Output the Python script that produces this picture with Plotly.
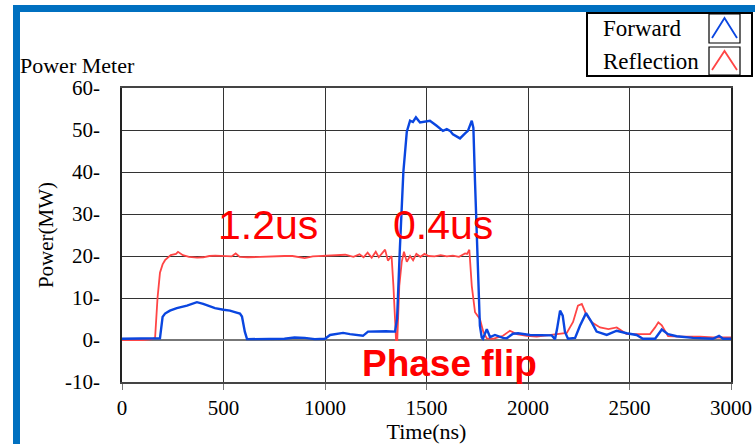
import plotly.graph_objects as go

# ---- data -------------------------------------------------------------
forward_t = [0, 100, 160, 187, 200, 212, 236, 270, 320, 369, 400, 458, 500, 532, 560,
             581, 591, 605, 616, 700, 800, 850, 900, 950, 1000, 1025, 1060, 1089,
             1123, 1160, 1187, 1212, 1256, 1300, 1345, 1355, 1369, 1386, 1403, 1419,
             1433, 1448, 1468, 1483, 1500, 1517, 1550, 1581, 1600, 1616, 1630, 1650,
             1665, 1690, 1704, 1723, 1731, 1739, 1747, 1754, 1763, 1772, 1778, 1797,
             1813, 1837, 1877, 1895, 1926, 1951, 2010, 2117, 2133, 2143, 2158, 2171,
             2182, 2197, 2232, 2256, 2286, 2314, 2338, 2388, 2437, 2486, 2535, 2566,
             2626, 2659, 2690, 2732, 2813, 2911, 2941, 2961, 3000]
forward_mw = [0.3, 0.3, 0.3, 0.4, 5.5, 6.3, 7.0, 7.6, 8.2, 9.0, 8.6, 7.6, 7.2, 7.0, 6.6,
              6.3, 5.6, 2.0, 0.2, 0.2, 0.3, 0.6, 0.5, 0.2, 0.3, 1.2, 1.5, 1.7,
              1.4, 1.2, 1.0, 2.0, 2.1, 2.1, 2.0, 5.0, 22.0, 40.0, 49.6, 52.2,
              51.9, 53.0, 51.8, 51.9, 52.0, 52.2, 51.0, 49.8, 50.2, 49.8, 49.0, 48.5,
              48.0, 49.2, 49.8, 52.2, 50.5, 37.6, 25.6, 12.9, 3.4, 0.6, 0.3, 2.6,
              0.7, 1.2, 0.5, 0.4, 1.5, 1.6, 1.2, 1.1, 0.2, 2.6, 7.0, 5.8,
              1.9, 0.3, 0.5, 3.4, 6.4, 4.2, 2.0, 1.2, 2.2, 1.6, 1.2, 0.3,
              0.3, 2.5, 1.4, 0.9, 0.5, 0.3, 1.0, 0.3, 0.3]

reflection_t = [0, 100, 150, 163, 175, 187, 200, 212, 240, 266, 276, 300, 330, 370, 400,
                430, 460, 500, 540, 560, 580, 620, 660, 700, 760, 800, 840, 880, 900,
                940, 980, 1020, 1060, 1100, 1140, 1170, 1190, 1210, 1230, 1250, 1265,
                1280, 1296, 1310, 1328, 1337, 1345, 1350, 1356, 1366, 1378, 1389, 1403,
                1419, 1434, 1450, 1470, 1490, 1510, 1540, 1570, 1600, 1630, 1660, 1690,
                1700, 1711, 1718, 1723, 1739, 1763, 1780, 1797, 1828, 1877, 1911, 1944,
                1994, 2043, 2123, 2191, 2222, 2246, 2265, 2286, 2314, 2355, 2396, 2437,
                2486, 2552, 2601, 2626, 2642, 2659, 2690, 2749, 2847, 2911, 3000]
reflection_mw = [0.0, 0.0, 0.2, 0.5, 10.0, 16.0, 18.0, 19.0, 20.2, 20.5, 21.0, 20.2, 19.8, 19.6, 19.7,
                 20.0, 20.1, 20.0, 19.9, 20.6, 19.8, 19.7, 19.8, 19.9, 20.0, 20.0, 20.0, 19.6, 19.5,
                 19.9, 20.0, 20.0, 20.1, 20.3, 19.8, 20.4, 19.7, 20.8, 19.6, 21.0, 19.7,
                 20.5, 21.5, 18.9, 20.0, 12.9, 3.4, 0.0, 0.0, 12.9, 18.6, 21.0, 18.6,
                 20.0, 19.0, 20.5, 19.8, 20.5, 20.0, 19.9, 20.2, 19.9, 20.1, 19.8, 20.6,
                 20.5, 21.5, 17.0, 12.9, 6.6, 5.0, 1.9, 0.4, 0.3, 1.0, 2.2, 1.4,
                 1.0, 0.8, 1.3, 1.7, 4.3, 8.2, 8.6, 6.2, 4.2, 3.0, 2.6, 3.0,
                 1.4, 1.4, 1.4, 3.0, 4.2, 3.5, 0.9, 0.8, 0.8, 0.6, 0.6]

x_ticks = [0, 500, 1000, 1500, 2000, 2500, 3000]
y_ticks = [-10, 0, 10, 20, 30, 40, 50, 60]
y_tick_labels = ["-10-", "0-", "10-", "20-", "30-", "40-", "50-", "60-"]
series_names = ["Forward", "Reflection"]

# ---- page geometry ----------------------------------------------------
W, H = 755, 444
L, R, T, B = 122, 731, 88, 382          # plot-area edges in pixels


def px(xp):
    return (xp - L) / (R - L)


def py(yp):
    return (B - yp) / (B - T)


BLUE = "#0a46e0"
RED = "#ff4545"
FRAME = "#0070c0"
SERIF = "Liberation Serif"
SANS = "Liberation Sans"

fig = go.Figure()
fig.add_trace(go.Scatter(x=reflection_t, y=reflection_mw, mode="lines",
                         name=series_names[1], line=dict(color=RED, width=1.8)))
fig.add_trace(go.Scatter(x=forward_t, y=forward_mw, mode="lines",
                         name=series_names[0], line=dict(color=BLUE, width=2.4)))

shapes = []
# outer blue frame (top and left edges)
shapes.append(dict(type="path", xref="paper", yref="paper",
                   path=f"M {px(16.5)},{py(470)} L {px(16.5)},{py(8.5)} L {px(780)},{py(8.5)}",
                   line=dict(color=FRAME, width=7)))
# legend box
shapes.append(dict(type="rect", xref="paper", yref="paper",
                   x0=px(587), x1=px(752), y0=py(13), y1=py(76),
                   line=dict(color="black", width=2), fillcolor="white"))
# legend swatches
for (top, bot), col in zip([(14, 43), (47, 75)], [BLUE, RED]):
    shapes.append(dict(type="rect", xref="paper", yref="paper",
                       x0=px(709), x1=px(740), y0=py(top), y1=py(bot),
                       line=dict(color="black", width=1.2)))
    shapes.append(dict(type="path", xref="paper", yref="paper",
                       path=(f"M {px(712)},{py(bot - 5)} L {px(724.5)},{py(top + 4)} "
                             f"L {px(737)},{py(bot - 5)}"),
                       line=dict(color=col, width=1.8)))

annotations = [
    dict(text="Power Meter", xref="paper", yref="paper", x=px(18), y=py(66),
         xanchor="left", yanchor="middle", showarrow=False,
         font=dict(family=SERIF, size=22, color="black")),
    dict(text=series_names[0], xref="paper", yref="paper", x=px(601), y=py(28),
         xanchor="left", yanchor="middle", showarrow=False,
         font=dict(family=SERIF, size=23, color="black")),
    dict(text=series_names[1], xref="paper", yref="paper", x=px(601), y=py(61),
         xanchor="left", yanchor="middle", showarrow=False,
         font=dict(family=SERIF, size=23, color="black")),
    dict(text="1.2us", x=719, y=27.4, xref="x", yref="y", showarrow=False,
         xanchor="center", yanchor="middle",
         font=dict(family=SANS, size=41, color="#ff0000")),
    dict(text="0.4us", x=1581, y=27.4, xref="x", yref="y", showarrow=False,
         xanchor="center", yanchor="middle",
         font=dict(family=SANS, size=41, color="#ff0000")),
    dict(text="<b>Phase flip</b>", x=1615, y=-5.7, xref="x", yref="y", showarrow=False,
         xanchor="center", yanchor="middle",
         font=dict(family=SANS, size=37, color="#ff0000")),
]

fig.update_layout(
    width=W, height=H, autosize=False,
    margin=dict(l=L, r=W - R, t=T, b=H - B, pad=0),
    paper_bgcolor="white", plot_bgcolor="white",
    showlegend=False,
    shapes=shapes, annotations=annotations,
    font=dict(family=SERIF, color="black"),
)
fig.update_xaxes(
    range=[0, 3000], tickmode="array", tickvals=x_ticks, ticks="outside", ticklen=6,
    tickcolor="#777", automargin=False,
    tickfont=dict(family=SERIF, size=21, color="black"),
    showgrid=True, gridcolor="#333", gridwidth=1.3,
    showline=True, linecolor="#444", linewidth=1.5, mirror=True, zeroline=False,
    title=dict(text="Time(ns)", font=dict(family=SERIF, size=22, color="black"), standoff=7),
)
fig.update_yaxes(
    range=[-10, 60], tickmode="array", tickvals=y_ticks, ticktext=y_tick_labels,
    ticks="", ticklabelstandoff=16, automargin=False,
    tickfont=dict(family=SERIF, size=21, color="black"),
    showgrid=True, gridcolor="#333", gridwidth=1.3,
    showline=True, linecolor="#222", linewidth=1.8, mirror=True,
    zeroline=True, zerolinecolor="#777", zerolinewidth=2,
    title=dict(text="Power(MW)", font=dict(family=SERIF, size=21, color="black"), standoff=6),
)

fig.write_html("out.html")
